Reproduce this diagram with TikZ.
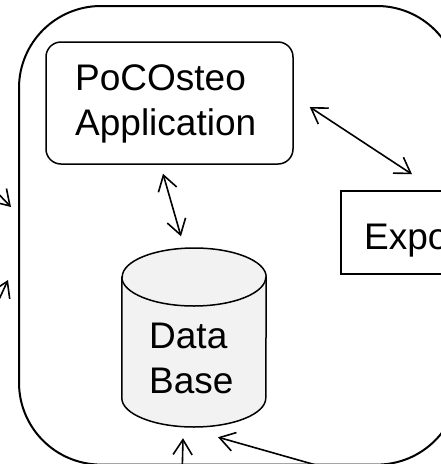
\documentclass[tikz,border=0pt]{standalone}
\usepackage{fontspec}
\setmainfont{Liberation Sans}
\usetikzlibrary{arrows.meta,calc}
\definecolor{dbfill}{HTML}{F2F2F2}
\begin{document}
\begin{tikzpicture}[x=1pt,y=-1pt,
  boxln/.style={draw=black, line width=1.5pt},
  arr/.style={line width=1.6pt, -{Straight Barb[length=15pt,width=19pt,line width=1.6pt]}},
  dbl/.style={line width=1.6pt, {Straight Barb[length=15pt,width=19pt,line width=1.6pt]}-{Straight Barb[length=15pt,width=19pt,line width=1.6pt]}},
  lbl/.style={anchor=base west, inner sep=0pt, font=\fontsize{37}{45}\selectfont}
]
\useasboundingbox (0,0) rectangle (441,464);
\clip (0,0) rectangle (441,464);
% outer container
\draw[line width=2pt, rounded corners=82pt] (19,6) rectangle (459,464.6);
% application box
\node[boxln, rounded corners=15pt, minimum width=247pt, minimum height=122pt, inner sep=0pt] (app) at (169.5,103) {};
\node[lbl] (t1) at (75,90) {PoCOsteo};
\node[lbl] (t2) at (75,135) {Application};
% export box
\node[boxln, minimum width=200pt, minimum height=83pt, inner sep=0pt] (exp) at (441,232.5) {};
\node[lbl] (t5) at (364,249) {Export};
% database cylinder
\node[minimum width=144pt, minimum height=179pt, inner sep=0pt] (db) at (194,337.5) {};
\filldraw[fill=dbfill, line width=1.5pt] (db.west |- 0,277) -- (db.west |- 0,398)
  arc[start angle=180, end angle=360, x radius=72pt, y radius=29pt]
  -- (db.east |- 0,277)
  arc[start angle=0, end angle=180, x radius=72pt, y radius=29pt] -- cycle;
\draw[line width=1.5pt] (db.west |- 0,277) arc[start angle=180, end angle=360, x radius=72pt, y radius=29pt];
\node[lbl] (t3) at (149,348) {Data};
\node[lbl] (t4) at (149,393) {Base};
% connector end points
\coordinate (appS) at ($(app.south)+(-6.5,9)$);
\coordinate (dbN) at ($(db.north)+(-13,-11.5)$);
\coordinate (appE) at ($(app.east)+(16,4)$);
\coordinate (expN) at ($(exp.north)+(-29,-16)$);
\coordinate (l1a) at (-12,183);
\coordinate (l1b) at (11,207);
\coordinate (l2a) at (-4,306);
\coordinate (l2b) at (8,280);
\coordinate (b1a) at (182,480);
\coordinate (b1b) at ($(db.south)+(-11,11)$);
\coordinate (b2a) at (330,469);
\coordinate (b2b) at ($(db.south)+(24,10)$);
% connectors
\draw[dbl] (appS) -- (dbN);
\draw[dbl] (appE) -- (expN);
\draw[arr] (l1a) -- (l1b);
\draw[arr] (l2a) -- (l2b);
\draw[arr] (b1a) -- (b1b);
\draw[arr] (b2a) -- (b2b);
\end{tikzpicture}
\end{document}
